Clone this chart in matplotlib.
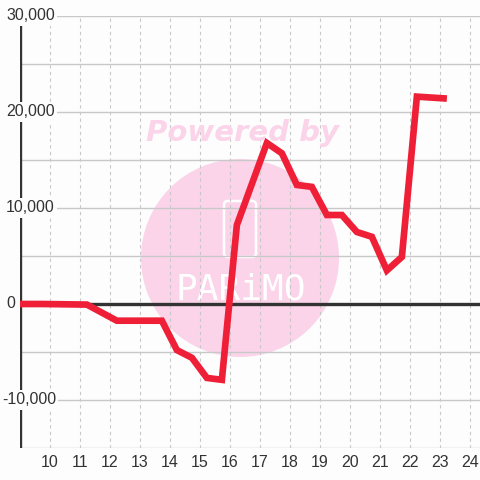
import matplotlib
matplotlib.use('Agg')
import matplotlib.pyplot as plt
from matplotlib.patches import Circle, FancyBboxPatch

# day of month (IST half-day steps) and net value
days = [8.729, 9.229, 9.729, 10.229, 10.729, 11.229, 11.729, 12.229, 12.729, 13.229,
        13.729, 14.229, 14.729, 15.229, 15.729, 16.229, 16.729, 17.229, 17.729, 18.229,
        18.729, 19.229, 19.729, 20.229, 20.729, 21.229, 21.729, 22.229, 22.729, 23.229]
values = [0, 0, 0, -20, -40, -60, -900, -1740, -1740, -1740,
          -1740, -4800, -5600, -7700, -7900, 8230, 12500, 16770, 15700, 12400,
          12200, 9270, 9270, 7500, 7000, 3500, 4900, 21600, 21500, 21400]

x_ticks = list(range(10, 25))
y_major = [-10000, 0, 10000, 20000, 30000]
y_minor = [-15000, -5000, 5000, 15000, 25000]

LINE_RED = '#ee1f36'
DARK = '#333333'
GRID = '#c8c8c8'
PINK = '#fbd4ea'
BG = '#fcfdfc'
LABEL_FONT = 'Liberation Sans'

fig = plt.figure(figsize=(4.8, 4.8), dpi=100)
fig.patch.set_facecolor(BG)
ax = fig.add_axes([20 / 480, 32 / 480, 460 / 480, 432 / 480])
ax.set_facecolor(BG)
ax.set_xlim(9, 9 + 460 / 30)
ax.set_ylim(-15000, 30000)
for s in ax.spines.values():
    s.set_visible(False)

# watermark
ax.add_patch(Circle((240 / 480, 1 - 258 / 480), 99 / 480, transform=fig.transFigure,
                    facecolor=PINK, edgecolor='none', zorder=0.1))
ax.add_patch(FancyBboxPatch((224 / 480, 1 - 257 / 480), 32 / 480, 56 / 480,
                            boxstyle='round,pad=0,rounding_size=0.008',
                            transform=fig.transFigure, facecolor='none',
                            edgecolor='white', lw=1.8, zorder=0.2))
fig.text(242 / 480, 1 - 133 / 480, 'Powered by', color=PINK, fontsize=21,
         fontweight='bold', fontstyle='italic', ha='center', va='center', zorder=0)
ax.text(241 / 480, 1 - 290 / 480, 'PARiMO', transform=fig.transFigure, color='white',
        fontsize=26, family='DejaVu Sans Mono', ha='center', va='center',
        zorder=0.2)

# grid
ax.set_axisbelow(True)
for v in x_ticks:
    ax.axvline(v, color=GRID, lw=0.8, ls=(0, (3, 3)), zorder=0.5)
for v in y_minor + y_major:
    ax.axhline(v, color=GRID, lw=1.0, zorder=0.5)

ax.axvline(9, ymin=0, ymax=(30000 + 15000 - 800) / 45000, color=DARK, lw=2.4, zorder=2)
ax.axhline(0, color=DARK, lw=2.4, zorder=2)

ax.plot(days, values, color=LINE_RED, lw=4.8, solid_joinstyle='miter',
        solid_capstyle='butt', zorder=3)

ax.set_xticks(x_ticks)
ax.set_xticklabels([str(t) for t in x_ticks], family=LABEL_FONT)
ax.tick_params(axis='x', length=0, pad=5, labelsize=11.5, labelcolor=DARK)
ax.set_yticks([])

for v in y_major:
    label = f'{v:,}'
    ax.text(-14 / 460 if v >= 0 else -18 / 460, v, label, transform=ax.get_yaxis_transform(),
            ha='left', va='center', fontsize=11.5, family=LABEL_FONT, color=DARK, zorder=4,
            bbox=dict(facecolor=BG, edgecolor='none', pad=1.5))

fig.savefig('out.png', dpi=100, facecolor=fig.get_facecolor())
